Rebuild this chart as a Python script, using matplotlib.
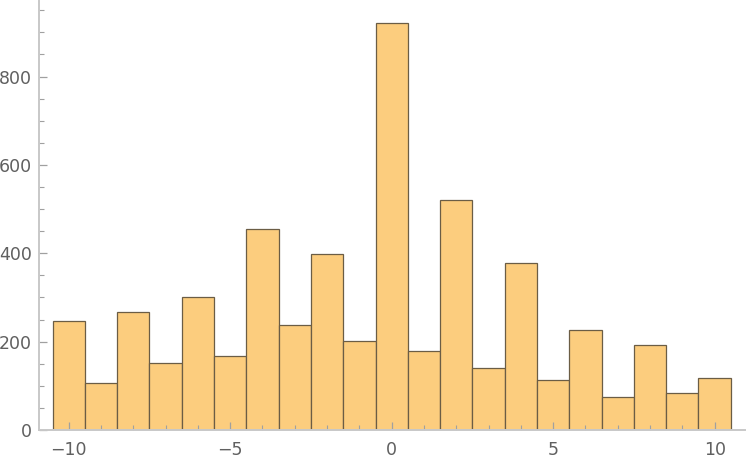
import matplotlib.pyplot as plt
from matplotlib.ticker import MultipleLocator

# histogram bins centred on integers, counts
centers = list(range(-10, 11))
counts = [247, 106, 266, 152, 300, 168, 454, 238, 398, 201, 922,
          179, 520, 140, 377, 114, 227, 74, 192, 84, 118]

fig = plt.figure(figsize=(7.47, 4.63), dpi=100)
ax = fig.add_axes([39 / 747, 33 / 463, 706 / 747, 429 / 463])

ax.bar(centers, counts, width=1.0, color='#fccd7e',
       edgecolor='#6b5d45', linewidth=0.9, zorder=1)

ax.set_xlim(-10.92, 10.94)
ax.set_ylim(0, 971)

ax.xaxis.set_major_locator(MultipleLocator(5))
ax.xaxis.set_minor_locator(MultipleLocator(1))
ax.yaxis.set_major_locator(MultipleLocator(200))
ax.yaxis.set_minor_locator(MultipleLocator(50))

for s in ['top', 'right']:
    ax.spines[s].set_visible(False)
for s in ['left', 'bottom']:
    ax.spines[s].set_color('#c8c8c8')
    ax.spines[s].set_linewidth(1.4)
    ax.spines[s].set_zorder(3)

ax.tick_params(which='both', direction='in', color='#a0a0a0',
               labelcolor='#606060', labelsize=12.5, zorder=3)
ax.tick_params(which='major', length=6, width=0.9)
ax.tick_params(which='minor', length=3.5, width=0.8)
ax.tick_params(axis='y', pad=5)
ax.tick_params(axis='x', pad=8)

plt.savefig('out.png', dpi=100)
